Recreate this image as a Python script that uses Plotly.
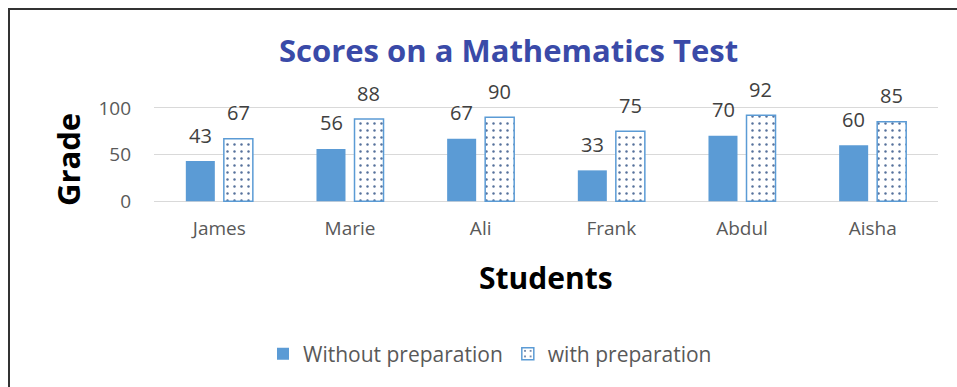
import plotly.graph_objects as go

students = ["James", "Marie", "Ali", "Frank", "Abdul", "Aisha"]
without_prep = [43, 56, 67, 33, 70, 60]
with_prep = [67, 88, 90, 75, 92, 85]
y_ticks = [0, 50, 100]

W, H = 957, 387
L, R, T, B = 154, 19, 106, 184
PW, PH = W - L - R, H - T - B


def px_x(px):
    return (px - L) / PW


def px_y(py):
    return (H - B - py) / PH


BLUE = "#5b9bd5"
FONT = "Open Sans"

fig = go.Figure()
fig.add_trace(go.Bar(
    x=students, y=without_prep, name="Without preparation",
    marker=dict(color=BLUE, line=dict(width=0)),
))
fig.add_trace(go.Bar(
    x=students, y=with_prep, name="with preparation",
    marker=dict(
        color="white",
        line=dict(color=BLUE, width=1.5),
        pattern=dict(shape=".", fgcolor="#56719c", bgcolor="white",
                     size=7, solidity=0.1, fillmode="replace"),
    ),
))

# value labels above each bar
annotations = []
for series, offset in ((without_prep, -0.145), (with_prep, 0.145)):
    for i, v in enumerate(series):
        annotations.append(dict(
            x=i + offset, y=v, xref="x", yref="y", text=str(v),
            showarrow=False, yanchor="middle", yshift=26,
            font=dict(family=FONT, size=20, color="#404040"),
        ))

annotations += [
    dict(text="<b>Scores on a Mathematics Test</b>", xref="paper", yref="paper",
         x=px_x(508), y=px_y(50), showarrow=False, xanchor="center", yanchor="middle",
         font=dict(family=FONT, size=31, color="#3a4aa8")),
    dict(text="<b>Grade</b>", xref="paper", yref="paper", textangle=-90,
         x=px_x(68), y=px_y(160), showarrow=False, xanchor="center", yanchor="middle",
         font=dict(family=FONT, size=31, color="#000000")),
    dict(text="<b>Students</b>", xref="paper", yref="paper",
         x=px_x(546), y=px_y(277), showarrow=False, xanchor="center", yanchor="middle",
         font=dict(family=FONT, size=30, color="#000000")),
]

# chart frame
shapes = [
    dict(type="line", xref="paper", yref="paper", x0=px_x(9), x1=px_x(9),
         y0=px_y(9), y1=px_y(400), line=dict(color="#333333", width=2)),
    dict(type="line", xref="paper", yref="paper", x0=px_x(8), x1=px_x(970),
         y0=px_y(9), y1=px_y(9), line=dict(color="#333333", width=2)),
]

fig.update_layout(
    width=W, height=H,
    margin=dict(l=L, r=R, t=T, b=B, pad=0),
    paper_bgcolor="white", plot_bgcolor="white",
    barmode="group", bargap=0.418, bargroupgap=0.237,
    showlegend=True,
    legend=dict(orientation="h", x=px_x(490), y=px_y(354), xanchor="center",
                yanchor="middle", font=dict(family=FONT, size=21, color="#595959"),
                itemwidth=30, traceorder="normal"),
    annotations=annotations,
    shapes=shapes,
    font=dict(family=FONT),
)
fig.update_xaxes(
    showgrid=False, showline=False, ticks="", ticklabelstandoff=12,
    tickfont=dict(family=FONT, size=19, color="#595959"),
)
fig.update_yaxes(
    range=[-2, 102], tickvals=y_ticks, showgrid=True, gridcolor="#d9d9d9",
    gridwidth=1, zeroline=False, showline=False, ticks="", ticklabelstandoff=22,
    tickfont=dict(family=FONT, size=19, color="#595959"),
)

fig.write_html("out.html")
